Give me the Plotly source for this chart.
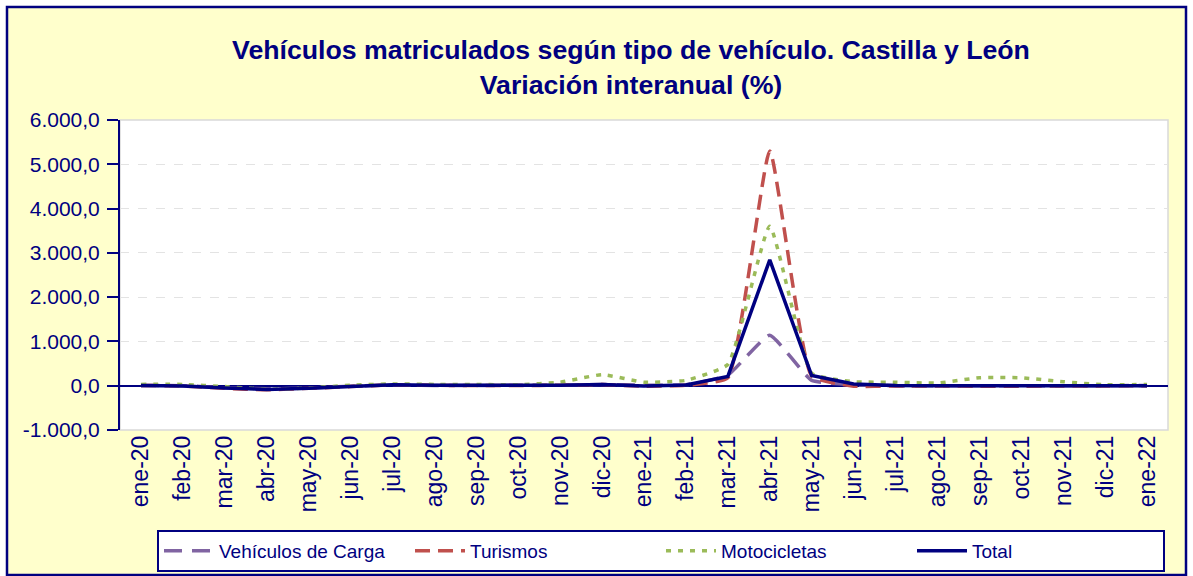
import plotly.graph_objects as go

months = ["ene-20", "feb-20", "mar-20", "abr-20", "may-20", "jun-20", "jul-20", "ago-20",
          "sep-20", "oct-20", "nov-20", "dic-20", "ene-21", "feb-21", "mar-21", "abr-21",
          "may-21", "jun-21", "jul-21", "ago-21", "sep-21", "oct-21", "nov-21", "dic-21", "ene-22"]

carga = [5, 0, -45, -70, -55, -10, 15, 5, 5, 10, 10, 30, 10, 20, 240, 1140,
         120, 20, 0, 0, 0, 0, 0, 0, 5]
turismos = [5, -5, -60, -90, -60, -20, 20, 10, 5, 5, 10, 25, -10, 10, 180, 5300,
            220, -10, -5, -5, -10, -10, -5, -5, 0]
motos = [30, 30, -20, -80, -50, 10, 40, 30, 30, 20, 80, 250, 80, 120, 480, 3600,
         280, 90, 80, 60, 180, 180, 90, 20, 30]
total = [5, -5, -50, -85, -55, -15, 20, 10, 5, 5, 10, 30, -5, 15, 210, 2840,
         230, 40, 5, 0, 0, 0, 0, 0, 0]

y_tickvals = [-1000, 0, 1000, 2000, 3000, 4000, 5000, 6000]
y_ticktext = ["-1.000,0", "0,0", "1.000,0", "2.000,0", "3.000,0", "4.000,0", "5.000,0", "6.000,0"]

NAVY = "#000080"

fig = go.Figure()
fig.add_trace(go.Scatter(x=months, y=carga, name="Vehículos de Carga", mode="lines",
                         line=dict(color="#8064A2", width=3.5, dash="18px,10px", shape="spline", smoothing=0.4)))
fig.add_trace(go.Scatter(x=months, y=turismos, name="Turismos", mode="lines",
                         line=dict(color="#C0504D", width=3.5, dash="15px,8px", shape="spline", smoothing=0.4)))
fig.add_trace(go.Scatter(x=months, y=motos, name="Motocicletas", mode="lines",
                         line=dict(color="#9BBB59", width=3.5, dash="5px,7px", shape="spline", smoothing=0.4)))
fig.add_trace(go.Scatter(x=months, y=total, name="Total", mode="lines",
                         line=dict(color=NAVY, width=3.5)))

L, R, T, B = 120, 25, 120, 146
W, H = 1193, 576
pw, ph = W - L - R, H - T - B

def px(xp):
    return (xp - L) / pw

def py(yp):
    return (H - B - yp) / ph

fig.update_layout(
    width=W, height=H,
    margin=dict(l=L, r=R, t=T, b=B, autoexpand=False),
    paper_bgcolor="white",
    plot_bgcolor="rgba(0,0,0,0)",
    font=dict(family="Arial, Liberation Sans, sans-serif", color=NAVY),
    title=dict(
        text="<b>Vehículos matriculados según tipo de vehículo. Castilla y León<br>Variación interanual (%)</b>",
        xref="container", yref="container",
        x=631 / W, xanchor="center", y=1 - 59 / H, yanchor="middle",
        font=dict(size=26.7, color=NAVY),
    ),
    xaxis=dict(
        type="category", showgrid=False, showline=False, ticks="",
        tickangle=-90, tickfont=dict(size=23, color=NAVY), automargin=False,
        range=[-0.5, len(months) - 0.5], zeroline=False,
    ),
    yaxis=dict(
        range=[-1000, 6000], tickvals=y_tickvals, ticktext=y_ticktext,
        showgrid=True, gridcolor="#E3E3E3", griddash="dash", gridwidth=1,
        showline=True, linecolor=NAVY, linewidth=2, automargin=False,
        ticks="outside", ticklen=11, tickwidth=2, tickcolor=NAVY,
        ticklabelstandoff=3,
        tickfont=dict(size=21, color=NAVY),
        zeroline=True, zerolinecolor=NAVY, zerolinewidth=2,
    ),
    legend=dict(
        orientation="h", xref="container", yref="container",
        x=157 / W, xanchor="left", y=1 - 530 / H, yanchor="top",
        bgcolor="white", bordercolor=NAVY, borderwidth=2,
        font=dict(size=19, color=NAVY),
        entrywidth=186, entrywidthmode="pixels",
        itemwidth=50,
    ),
    shapes=[
        dict(type="rect", xref="paper", yref="paper",
             x0=px(7), x1=px(1186), y0=py(575), y1=py(7),
             fillcolor="#FFFFCC", line=dict(color=NAVY, width=2.5), layer="below"),
        dict(type="rect", xref="paper", yref="paper",
             x0=0, x1=1, y0=0, y1=1,
             fillcolor="white", line=dict(color="#D9D9D9", width=1.5), layer="below"),
    ],
)

fig.write_html("out.html", config={"displayModeBar": False},
               post_script="document.body.style.margin='0px';")
